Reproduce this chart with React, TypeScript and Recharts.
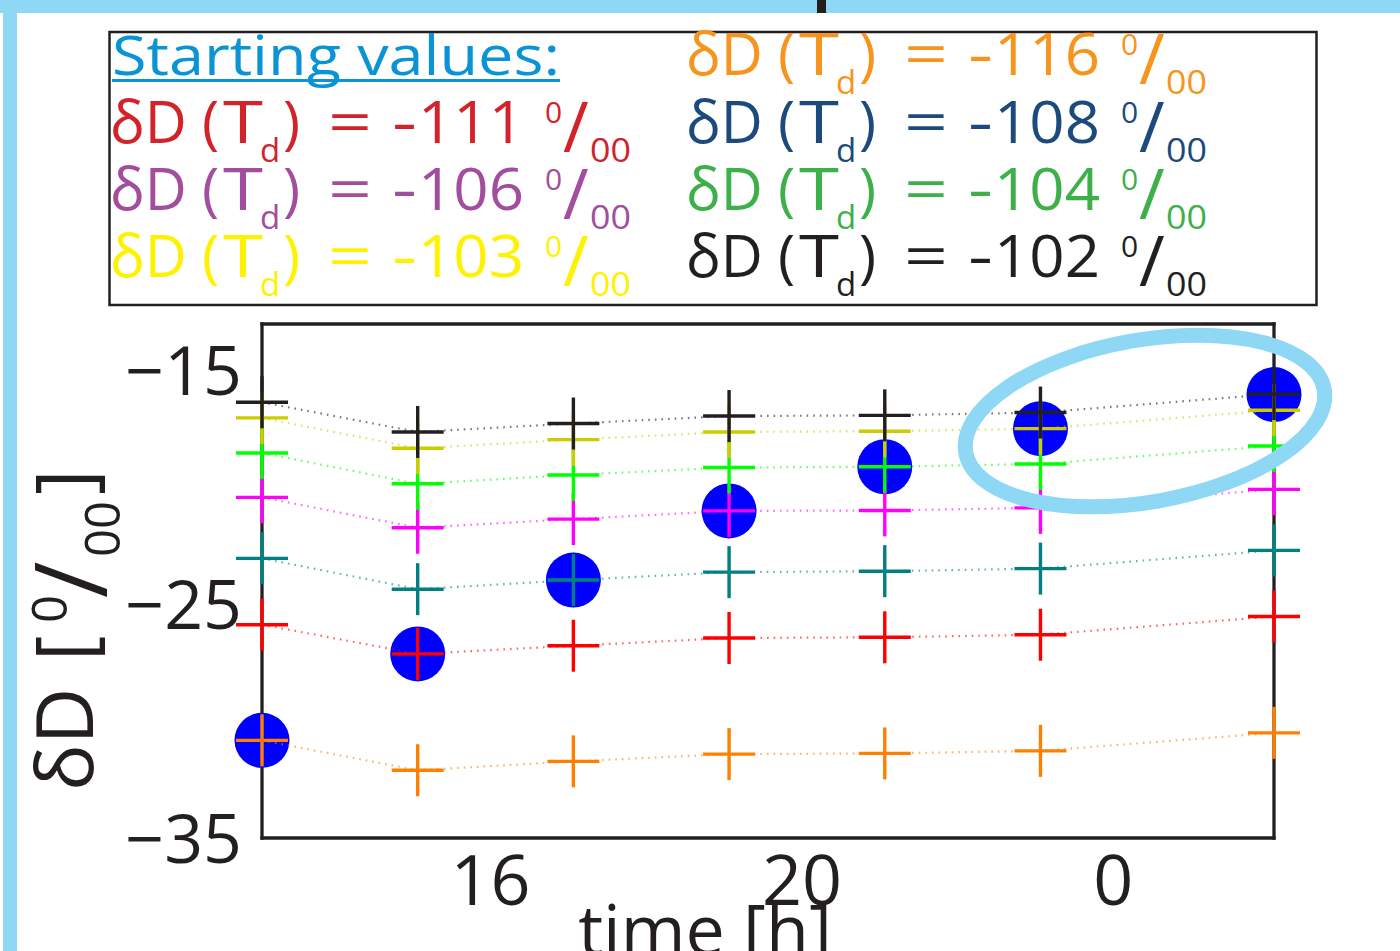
import React from 'react';
import { ScatterChart, Scatter, XAxis, YAxis } from 'recharts';

// ---- data ----
const times = [13, 15, 17, 19, 21, 23, 26];
const blackVals = [-16.35, -17.62, -17.26, -16.94, -16.91, -16.79, -16.0];
const yellowVals = [-17.02, -18.32, -17.95, -17.62, -17.59, -17.48, -16.69];
const greenVals = [-18.52, -19.84, -19.46, -19.14, -19.11, -18.99, -18.22];
const magentaVals = [-20.42, -21.72, -21.35, -21.0, -20.98, -20.87, -20.08];
const tealVals = [-23.03, -24.35, -23.96, -23.62, -23.58, -23.47, -22.69];
const redVals = [-25.87, -27.12, -26.77, -26.44, -26.41, -26.3, -25.52];
const orangeVals = [-30.82, -32.1, -31.72, -31.41, -31.38, -31.27, -30.5];
const measuredVals = [-30.82, -27.12, -23.96, -21.0, -19.11, -17.48, -16.02];

const xTicks = [16, 20, 24];
const yTicks = [-35, -25, -15];

const legendTitle = 'Starting values:';
const legendValues = ['-116', '-111', '-108', '-106', '-104', '-103', '-102'];

// ---- styles ----
const FONT = '"Open Sans", "DejaVu Sans", sans-serif';
const INK = '#231f20';
const FRAME = '#8fd8f5';
const legendColors = ['#f7941d', '#d2232a', '#1c4a7c', '#a24d9e', '#3db049', '#fff200', '#231f20'];
// slot order for legend values: [col,row]
const legendSlots: [number, number][] = [[1, 0], [0, 1], [1, 1], [0, 2], [1, 2], [0, 3], [1, 3]];

const toData = (vals: number[]) => times.map((t, i) => ({ x: t, y: vals[i] }));

const series = [
  { key: 'orange', vals: orangeVals, color: '#ff8000' },
  { key: 'red', vals: redVals, color: '#ff0000' },
  { key: 'teal', vals: tealVals, color: '#008080' },
  { key: 'magenta', vals: magentaVals, color: '#ff00ff' },
  { key: 'green', vals: greenVals, color: '#00ff00' },
  { key: 'yellow', vals: yellowVals, color: '#cccc00' },
  { key: 'black', vals: blackVals, color: '#231f20' },
];

const makeCross = (color: string) => (props: any) => {
  const { cx, cy } = props;
  if (cx == null || cy == null) return <g />;
  const h = 26;
  return (
    <g>
      <line x1={cx - h} x2={cx + h} y1={cy} y2={cy} stroke={color} strokeWidth={3.4} />
      <line x1={cx} x2={cx} y1={cy - h} y2={cy + h} stroke={color} strokeWidth={3.4} />
    </g>
  );
};

const BlueDot = (props: any) => {
  const { cx, cy } = props;
  if (cx == null || cy == null) return <g />;
  return <circle cx={cx} cy={cy} r={27.5} fill="#0000ff" />;
};

const XTick = (props: any) => {
  const { x, y, payload } = props;
  return (
    <text x={x - 5} y={y + 50} textAnchor="middle" fontFamily={FONT} fontSize={70} fill={INK}>
      {String(payload.value % 24)}
    </text>
  );
};

const YTick = (props: any) => {
  const { x, y, payload } = props;
  const v = payload.value;
  const s = v < 0 ? '\u2212' + Math.abs(v) : String(v);
  return (
    <text x={x + 4} y={y + 24.5} textAnchor="end" fontFamily={FONT} fontSize={68} fill={INK}>
      {s}
    </text>
  );
};

function DeltaRow({ x, y, value, color }: { x: number; y: number; value: string; color: string }) {
  const F = 58;
  const S = 33;
  const digits = value.replace('-', '');
  return (
    <g fill={color} fontFamily={FONT}>
      <text x={x - 2} y={y} fontSize={F}>δD</text>
      <text x={x + 90} y={y} fontSize={F}>(</text>
      <text x={x + 111} y={y} fontSize={F} textLength={40} lengthAdjust="spacingAndGlyphs">T</text>
      <text x={x + 148} y={y + 19} fontSize={S}>d</text>
      <text x={x + 171} y={y} fontSize={F}>)</text>
      <text x={x + 216} y={y} fontSize={F} textLength={44} lengthAdjust="spacingAndGlyphs">=</text>
      <text x={x + 280} y={y} fontSize={F} textLength={25} lengthAdjust="spacingAndGlyphs">-</text>
      <text x={x + 306} y={y} fontSize={F} textLength={106} lengthAdjust="spacingAndGlyphs">{digits}</text>
      <text x={x + 433} y={y - 20} fontSize={30}>0</text>
      <text x={x + 451} y={y + 9} fontSize={70}>/</text>
      <text x={x + 478} y={y + 19} fontSize={S} textLength={41} lengthAdjust="spacingAndGlyphs">00</text>
    </g>
  );
}

function Overlay() {
  const colX = [112, 688];
  const rowY = [75, 143, 210, 277];
  return (
    <svg width={1400} height={951} style={{ position: 'absolute', left: 0, top: 0, pointerEvents: 'none' }}>
      {/* frame */}
      <rect x={0} y={0} width={1400} height={13} fill={FRAME} />
      <rect x={3} y={0} width={14} height={951} fill={FRAME} />
      <rect x={817} y={0} width={9} height={13} fill={INK} />

      {/* legend box */}
      <rect x={109.5} y={32} width={1207} height={273} fill="none" stroke={INK} strokeWidth={2.5} />
      <text x={112} y={75} fontFamily={FONT} fontSize={54} fill="#0a94d6" textLength={448} lengthAdjust="spacingAndGlyphs">
        {legendTitle}
      </text>
      <line x1={112} x2={560} y1={80.5} y2={80.5} stroke="#0a94d6" strokeWidth={3} />
      {legendValues.map((v, i) => (
        <DeltaRow key={v} x={colX[legendSlots[i][0]]} y={rowY[legendSlots[i][1]]} value={v} color={legendColors[i]} />
      ))}

      {/* y label */}
      <g transform="translate(93,788) rotate(-90)" fontFamily={FONT} fill={INK}>
        <text x={-3} y={0} fontSize={78}>δD</text>
        <text x={127} y={0} fontSize={78}>[</text>
        <text x={165} y={-26} fontSize={49}>0</text>
        <text x={190} y={14} fontSize={100}>/</text>
        <text x={231} y={27} fontSize={49}>00</text>
        <text x={293} y={0} fontSize={78}>]</text>
      </g>

      {/* x label */}
      <text x={705} y={955} textAnchor="middle" fontFamily={FONT} fontSize={70} fill={INK}>time [h]</text>

      {/* highlight ellipse */}
      <ellipse cx={1145} cy={421} rx={182} ry={81} fill="none" stroke={FRAME} strokeWidth={15} transform="rotate(-10 1145 421)" />
    </svg>
  );
}

export default function App() {
  const axisStyle = { stroke: INK, strokeWidth: 3.3, strokeLinecap: 'square' as const };
  const tickStyle = { stroke: INK, strokeWidth: 3 };
  return (
    <div style={{ position: 'absolute', left: 0, top: 0, width: 1400, height: 951, overflow: 'hidden', background: '#fff' }}>
      <ScatterChart width={1400} height={951} margin={{ top: 324, right: 126, bottom: 83, left: 202 }} style={{ position: 'absolute', left: 0, top: 0 }}>
        <XAxis xAxisId="x" type="number" dataKey="x" domain={[13, 26]} ticks={xTicks} axisLine={false} tickLine={false}
          tickSize={0} tickMargin={17} height={30} tick={<XTick />} interval={0} />
        <XAxis xAxisId="xb" type="number" domain={[13, 26]} ticks={xTicks} allowDataOverflow mirror orientation="bottom"
          axisLine={axisStyle} tickLine={tickStyle} tickSize={10} tick={false} interval={0} />
        <XAxis xAxisId="xt" type="number" domain={[13, 26]} ticks={xTicks} allowDataOverflow mirror orientation="top"
          axisLine={axisStyle} tickLine={tickStyle} tickSize={10} tick={false} interval={0} />
        <YAxis yAxisId="y" type="number" dataKey="y" domain={[-35, -13]} ticks={yTicks} axisLine={false} tickLine={false}
          tickSize={0} tickMargin={24} width={60} tick={<YTick />} interval={0} />
        <YAxis yAxisId="yl" type="number" domain={[-35, -13]} ticks={yTicks} allowDataOverflow mirror orientation="left"
          axisLine={axisStyle} tickLine={tickStyle} tickSize={10} tick={false} interval={0} />
        <YAxis yAxisId="yr" type="number" domain={[-35, -13]} ticks={yTicks} allowDataOverflow mirror orientation="right"
          axisLine={axisStyle} tickLine={tickStyle} tickSize={10} tick={false} interval={0} />

        <Scatter name="measured" data={toData(measuredVals)} xAxisId="x" yAxisId="y" fill="#0000ff"
          shape={BlueDot} isAnimationActive={false} legendType="none" />
        {series.map((s) => (
          <Scatter key={s.key} name={s.key} data={toData(s.vals)} xAxisId="x" yAxisId="y" fill={s.color}
            line={{ stroke: s.color, strokeWidth: 2.2, strokeDasharray: '1.6 5', strokeOpacity: 0.6 }}
            lineType="joint" shape={makeCross(s.color)} isAnimationActive={false} legendType="none" />
        ))}
      </ScatterChart>
      <Overlay />
    </div>
  );
}
